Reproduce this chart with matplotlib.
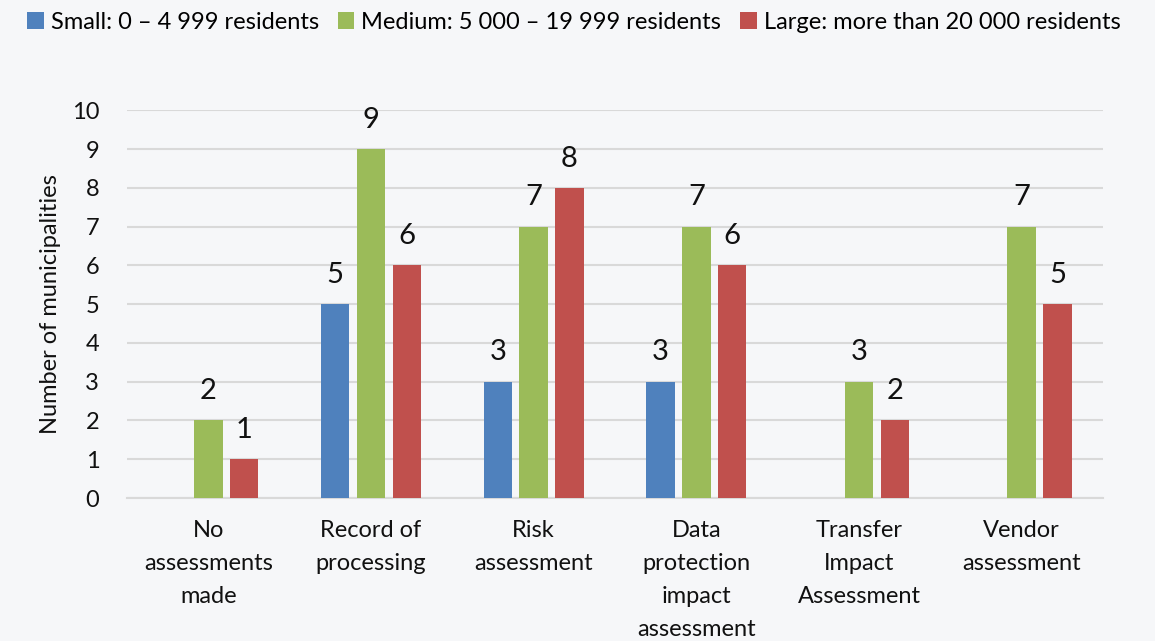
import matplotlib.pyplot as plt
import numpy as np

plt.rcParams['font.family'] = ['Lato', 'DejaVu Sans']

categories = ['No\nassessments\nmade', 'Record of\nprocessing', 'Risk\nassessment',
              'Data\nprotection\nimpact\nassessment', 'Transfer\nImpact\nAssessment',
              'Vendor\nassessment']
small = [0, 5, 3, 3, 0, 0]
medium = [2, 9, 7, 7, 3, 7]
large = [1, 6, 8, 6, 2, 5]
series_names = ['Small: 0 \u2013 4 999 residents',
                'Medium: 5 000 \u2013 19 999 residents',
                'Large: more than 20 000 residents']
colors = ['#4F81BD', '#9BBB59', '#C0504D']

fig = plt.figure(figsize=(11.55, 6.41), dpi=100)
fig.patch.set_facecolor('#f6f7f9')
ax = fig.add_axes([0.110, 0.223, 0.845, 0.605])
ax.set_facecolor('none')

x = np.arange(len(categories))
width = 0.175
offsets = [-0.22, 0.0, 0.22]

for vals, off, col, name in zip([small, medium, large], offsets, colors, series_names):
    bars = ax.bar(x + off, vals, width, color=col, label=name, zorder=3)
    for b, v in zip(bars, vals):
        if v > 0:
            ax.text(b.get_x() + b.get_width() / 2, v + 0.42, str(v),
                    ha='center', va='bottom', fontsize=21, color='#111111')

ax.set_ylim(0, 10)
ax.set_xlim(-0.5, len(categories) - 0.5)
ax.set_yticks(np.arange(0, 11, 1))
ax.yaxis.grid(True, color='#d9d9d9', lw=1.5, zorder=0)
ax.set_axisbelow(True)
for s in ['top', 'right', 'left']:
    ax.spines[s].set_visible(False)
ax.spines['bottom'].set_color('#d9d9d9')
ax.spines['bottom'].set_linewidth(1.5)
ax.tick_params(axis='both', length=0, labelsize=17, colors='#111111')
ax.tick_params(axis='y', pad=20)
ax.tick_params(axis='x', pad=16)
ax.set_xticks(x)
ax.set_xticklabels(categories, fontsize=17, linespacing=1.7, va='top')
ax.set_ylabel('Number of municipalities', fontsize=17, color='#111111', labelpad=8)

fig.legend(loc='upper left', bbox_to_anchor=(0.005, 1.015), ncol=3, frameon=False,
           fontsize=17, handlelength=0.7, handleheight=0.7, handletextpad=0.3,
           columnspacing=0.8)

plt.savefig('out.png', dpi=100, facecolor=fig.get_facecolor())
